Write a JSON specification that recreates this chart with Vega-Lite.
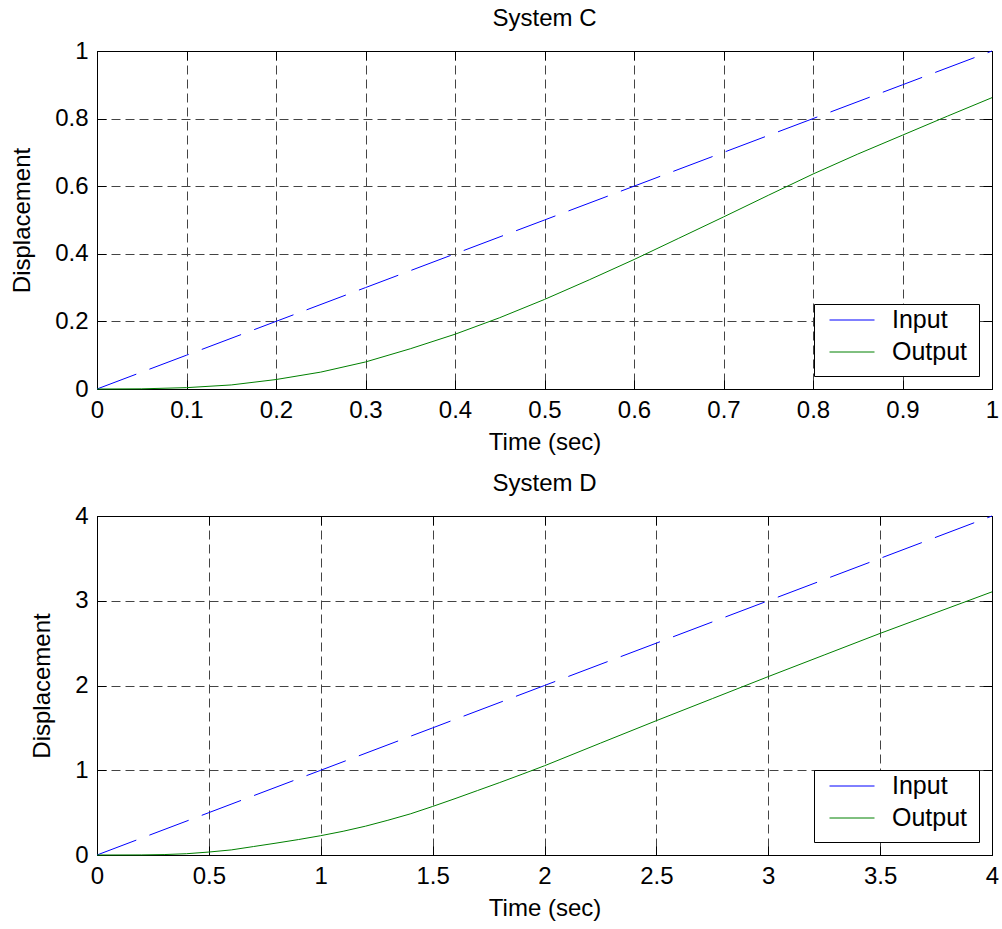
{
  "$schema": "https://vega.github.io/schema/vega-lite/v6.json",
  "background": "white",
  "padding": {"left": 10, "top": 6, "right": 11, "bottom": 5},
  "config": {
    "font": "Liberation Sans",
    "view": {"stroke": "black", "strokeWidth": 1},
    "axis": {
      "domainColor": "black",
      "domainWidth": 1,
      "tickColor": "black",
      "tickSize": -9,
      "labelPadding": 18,
      "labelFontSize": 24,
      "labelColor": "black",
      "labelFlush": false,
      "labelOverlap": false,
      "titleFontSize": 24,
      "titleFontWeight": "normal",
      "titleColor": "black",
      "titlePadding": 8,
      "gridColor": "#444444",
      "gridDash": [9, 5],
      "gridOpacity": 1,
      "gridWidth": 1
    },
    "axisY": {"titlePadding": 20},
    "title": {"fontSize": 24, "fontWeight": "normal", "color": "black", "offset": 8},
    "legend": {
      "orient": "bottom-right",
      "offset": 13,
      "fillColor": "white",
      "strokeColor": "black",
      "padding": 11,
      "symbolOffset": 4,
      "symbolType": "stroke",
      "symbolSize": 2025,
      "symbolStrokeWidth": 1,
      "labelFontSize": 25,
      "labelColor": "black",
      "labelOffset": 17,
      "clipHeight": 10,
      "rowPadding": 7
    },
    "concat": {"spacing": 16}
  },
  "datasets": {
    "c": [
      {"t": 0, "v": 0, "series": "Input"},
      {"t": 0.1, "v": 0.1, "series": "Input"},
      {"t": 0.2, "v": 0.2, "series": "Input"},
      {"t": 0.3, "v": 0.3, "series": "Input"},
      {"t": 0.4, "v": 0.4, "series": "Input"},
      {"t": 0.5, "v": 0.5, "series": "Input"},
      {"t": 0.6, "v": 0.6, "series": "Input"},
      {"t": 0.7, "v": 0.7, "series": "Input"},
      {"t": 0.8, "v": 0.8, "series": "Input"},
      {"t": 0.9, "v": 0.9, "series": "Input"},
      {"t": 1.0, "v": 1.0, "series": "Input"},
      {"t": 0, "v": 0, "series": "Output"},
      {"t": 0.05, "v": 0.0005, "series": "Output"},
      {"t": 0.1, "v": 0.004, "series": "Output"},
      {"t": 0.15, "v": 0.012, "series": "Output"},
      {"t": 0.2, "v": 0.028, "series": "Output"},
      {"t": 0.25, "v": 0.05, "series": "Output"},
      {"t": 0.3, "v": 0.08, "series": "Output"},
      {"t": 0.35, "v": 0.119, "series": "Output"},
      {"t": 0.4, "v": 0.162, "series": "Output"},
      {"t": 0.45, "v": 0.211, "series": "Output"},
      {"t": 0.5, "v": 0.265, "series": "Output"},
      {"t": 0.55, "v": 0.323, "series": "Output"},
      {"t": 0.6, "v": 0.383, "series": "Output"},
      {"t": 0.65, "v": 0.446, "series": "Output"},
      {"t": 0.7, "v": 0.509, "series": "Output"},
      {"t": 0.75, "v": 0.573, "series": "Output"},
      {"t": 0.8, "v": 0.636, "series": "Output"},
      {"t": 0.85, "v": 0.695, "series": "Output"},
      {"t": 0.9, "v": 0.751, "series": "Output"},
      {"t": 0.95, "v": 0.807, "series": "Output"},
      {"t": 1.0, "v": 0.862, "series": "Output"}
    ],
    "d": [
      {"t": 0, "v": 0, "series": "Input"},
      {"t": 0.5, "v": 0.5, "series": "Input"},
      {"t": 1, "v": 1, "series": "Input"},
      {"t": 1.5, "v": 1.5, "series": "Input"},
      {"t": 2, "v": 2, "series": "Input"},
      {"t": 2.5, "v": 2.5, "series": "Input"},
      {"t": 3, "v": 3, "series": "Input"},
      {"t": 3.5, "v": 3.5, "series": "Input"},
      {"t": 4, "v": 4, "series": "Input"},
      {"t": 0, "v": 0, "series": "Output"},
      {"t": 0.2, "v": 0.001, "series": "Output"},
      {"t": 0.3, "v": 0.005, "series": "Output"},
      {"t": 0.4, "v": 0.015, "series": "Output"},
      {"t": 0.5, "v": 0.035, "series": "Output"},
      {"t": 0.6, "v": 0.06, "series": "Output"},
      {"t": 0.7, "v": 0.1, "series": "Output"},
      {"t": 0.8, "v": 0.14, "series": "Output"},
      {"t": 0.9, "v": 0.182, "series": "Output"},
      {"t": 1.0, "v": 0.228, "series": "Output"},
      {"t": 1.1, "v": 0.28, "series": "Output"},
      {"t": 1.2, "v": 0.34, "series": "Output"},
      {"t": 1.3, "v": 0.41, "series": "Output"},
      {"t": 1.4, "v": 0.485, "series": "Output"},
      {"t": 1.5, "v": 0.573, "series": "Output"},
      {"t": 1.6, "v": 0.665, "series": "Output"},
      {"t": 1.7, "v": 0.76, "series": "Output"},
      {"t": 1.8, "v": 0.855, "series": "Output"},
      {"t": 1.9, "v": 0.953, "series": "Output"},
      {"t": 2.0, "v": 1.053, "series": "Output"},
      {"t": 2.25, "v": 1.32, "series": "Output"},
      {"t": 2.5, "v": 1.585, "series": "Output"},
      {"t": 2.75, "v": 1.845, "series": "Output"},
      {"t": 3.0, "v": 2.105, "series": "Output"},
      {"t": 3.25, "v": 2.36, "series": "Output"},
      {"t": 3.5, "v": 2.615, "series": "Output"},
      {"t": 3.75, "v": 2.86, "series": "Output"},
      {"t": 4.0, "v": 3.105, "series": "Output"}
    ]
  },
  "vconcat": [
    {
      "title": "System C",
      "width": 895,
      "height": 338,
      "data": {"name": "c"},
      "resolve": {"axis": {"x": "independent", "y": "independent"}},
      "layer": [
        {
          "transform": [{"filter": "datum.series == 'Input'"}],
          "mark": {"type": "line", "strokeWidth": 1, "strokeDash": [42, 14]},
          "encoding": {
            "x": {"field": "t", "type": "quantitative", "scale": {"domain": [0, 1], "nice": false},
                  "axis": {"values": [0, 0.1, 0.2, 0.3, 0.4, 0.5, 0.6, 0.7, 0.8, 0.9, 1], "format": "~g", "title": "Time (sec)", "grid": true}},
            "y": {"field": "v", "type": "quantitative", "scale": {"domain": [0, 1], "nice": false},
                  "axis": {"values": [0, 0.2, 0.4, 0.6, 0.8, 1], "format": "~g", "title": "Displacement", "grid": true}},
            "color": {"field": "series", "type": "nominal", "scale": {"domain": ["Input", "Output"], "range": ["#0000ff", "#008000"]}, "legend": {"title": null}}
          }
        },
        {
          "transform": [{"filter": "datum.series == 'Output'"}],
          "mark": {"type": "line", "strokeWidth": 1},
          "encoding": {
            "x": {"field": "t", "type": "quantitative", "scale": {"domain": [0, 1], "nice": false},
                  "axis": {"orient": "top", "values": [0, 0.1, 0.2, 0.3, 0.4, 0.5, 0.6, 0.7, 0.8, 0.9, 1], "labels": false, "title": null, "grid": false}},
            "y": {"field": "v", "type": "quantitative", "scale": {"domain": [0, 1], "nice": false},
                  "axis": {"orient": "right", "values": [0, 0.2, 0.4, 0.6, 0.8, 1], "labels": false, "title": null, "grid": false}},
            "color": {"field": "series", "type": "nominal", "scale": {"domain": ["Input", "Output"], "range": ["#0000ff", "#008000"]}, "legend": {"title": null}}
          }
        }
      ]
    },
    {
      "title": "System D",
      "width": 895,
      "height": 339,
      "data": {"name": "d"},
      "resolve": {"axis": {"x": "independent", "y": "independent"}},
      "layer": [
        {
          "transform": [{"filter": "datum.series == 'Input'"}],
          "mark": {"type": "line", "strokeWidth": 1, "strokeDash": [42, 14]},
          "encoding": {
            "x": {"field": "t", "type": "quantitative", "scale": {"domain": [0, 4], "nice": false},
                  "axis": {"values": [0, 0.5, 1, 1.5, 2, 2.5, 3, 3.5, 4], "format": "~g", "title": "Time (sec)", "grid": true}},
            "y": {"field": "v", "type": "quantitative", "scale": {"domain": [0, 4], "nice": false},
                  "axis": {"values": [0, 1, 2, 3, 4], "format": "~g", "title": "Displacement", "grid": true}},
            "color": {"field": "series", "type": "nominal", "scale": {"domain": ["Input", "Output"], "range": ["#0000ff", "#008000"]}, "legend": {"title": null}}
          }
        },
        {
          "transform": [{"filter": "datum.series == 'Output'"}],
          "mark": {"type": "line", "strokeWidth": 1},
          "encoding": {
            "x": {"field": "t", "type": "quantitative", "scale": {"domain": [0, 4], "nice": false},
                  "axis": {"orient": "top", "values": [0, 0.5, 1, 1.5, 2, 2.5, 3, 3.5, 4], "labels": false, "title": null, "grid": false}},
            "y": {"field": "v", "type": "quantitative", "scale": {"domain": [0, 4], "nice": false},
                  "axis": {"orient": "right", "values": [0, 1, 2, 3, 4], "labels": false, "title": null, "grid": false}},
            "color": {"field": "series", "type": "nominal", "scale": {"domain": ["Input", "Output"], "range": ["#0000ff", "#008000"]}, "legend": {"title": null}}
          }
        }
      ]
    }
  ],
  "resolve": {"scale": {"color": "independent"}}
}
